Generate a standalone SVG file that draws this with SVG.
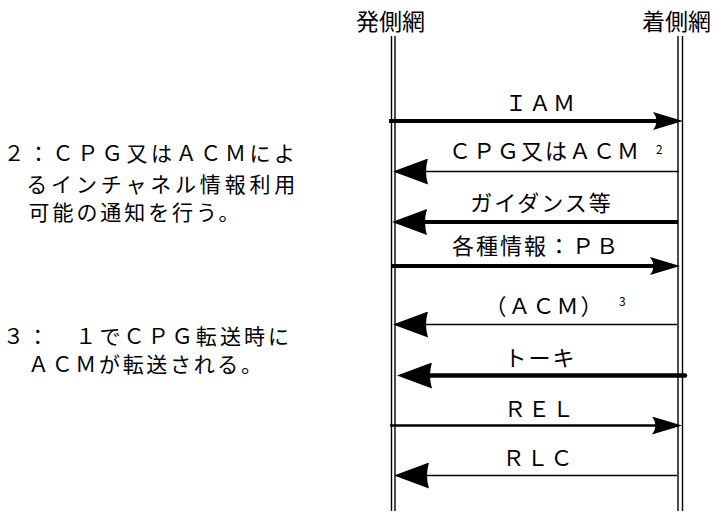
<svg xmlns="http://www.w3.org/2000/svg" width="715" height="513" viewBox="0 0 715 513">
<style>
text{font-family:"Noto Sans CJK JP","Noto Sans",sans-serif;fill:#000}
.hdr{font-size:23px;text-anchor:middle}
.lbl{font-size:22px;letter-spacing:2px;text-anchor:middle}
.sup{font-size:12px}
.note{font-size:21px}
.life{stroke:#000;stroke-width:1.4;fill:none}
.msg{stroke:#000;fill:none}
</style>
<defs>
<marker id="hs" viewBox="0 0 30 18" markerWidth="30" markerHeight="18" refX="20" refY="9" orient="auto" markerUnits="userSpaceOnUse">
<path d="M30,9 L0,0 Q7,9 0,18 Z" fill="#000"/>
</marker>
<marker id="hb" viewBox="0 0 35 26" markerWidth="35" markerHeight="26" refX="25" refY="13" orient="auto" markerUnits="userSpaceOnUse">
<path d="M35,13 L0,0 Q4,13 0,26 Z" fill="#000"/>
</marker>
</defs>
<rect width="715" height="513" fill="#fff"/>
<g id="node-orig">
<text class="hdr" x="390.5" y="30">発側網</text>
<line class="life" x1="391.5" y1="36" x2="391.5" y2="511"/>
<line class="life" x1="395" y1="36" x2="395" y2="511"/>
</g>
<g id="node-term">
<text class="hdr" x="676.5" y="30">着側網</text>
<line class="life" x1="678" y1="36" x2="678" y2="511"/>
<line class="life" x1="682.5" y1="36" x2="682.5" y2="511"/>
</g>
<g id="connectors">
<line class="msg" x1="389" y1="121" x2="673" y2="121" stroke-width="4" marker-end="url(#hs)"/>
<text class="lbl" x="541" y="111">ＩＡＭ</text>
<line class="msg" x1="679" y1="171.5" x2="403" y2="171.5" stroke-width="1.4" marker-end="url(#hb)"/>
<text class="lbl" x="545" y="159">ＣＰＧ又はＡＣＭ</text>
<text class="sup" x="656" y="154">2</text>
<line class="msg" x1="678" y1="222" x2="402" y2="222" stroke-width="4" marker-end="url(#hb)"/>
<text class="lbl" x="541.5" y="211">ガイダンス等</text>
<line class="msg" x1="392" y1="266" x2="670" y2="266" stroke-width="4" marker-end="url(#hs)"/>
<text class="lbl" x="536" y="254">各種情報：ＰＢ</text>
<line class="msg" x1="677" y1="324.5" x2="403" y2="324.5" stroke-width="1.4" marker-end="url(#hb)"/>
<text class="lbl" x="544.5" y="314">（ＡＣＭ）</text>
<text class="sup" x="619" y="306">3</text>
<line class="msg" x1="685" y1="375.5" x2="407" y2="375.5" stroke-width="4.5" stroke-linecap="round" marker-end="url(#hb)"/>
<text class="lbl" x="540.5" y="366">トーキ</text>
<line class="msg" x1="390" y1="425.5" x2="672" y2="425.5" stroke-width="2.3" marker-end="url(#hs)"/>
<text class="lbl" x="540" y="417">ＲＥＬ</text>
<line class="msg" x1="677" y1="475.5" x2="404" y2="475.5" stroke-width="1.6" marker-end="url(#hb)"/>
<text class="lbl" x="538.5" y="466">ＲＬＣ</text>
</g>
<g id="notes">
<text class="note" x="3.4" y="161" textLength="291.7" lengthAdjust="spacing">２：ＣＰＧ又はＡＣＭによ</text>
<text class="note" x="26.3" y="192" textLength="269" lengthAdjust="spacing">るインチャネル情報利用</text>
<text class="note" x="28.6" y="220" textLength="211" lengthAdjust="spacing">可能の通知を行う。</text>
<text class="note" x="3.1" y="344" textLength="286" lengthAdjust="spacing">３：　１でＣＰＧ転送時に</text>
<text class="note" x="28" y="372" textLength="234" lengthAdjust="spacing">ＡＣＭが転送される。</text>
</g>
</svg>
